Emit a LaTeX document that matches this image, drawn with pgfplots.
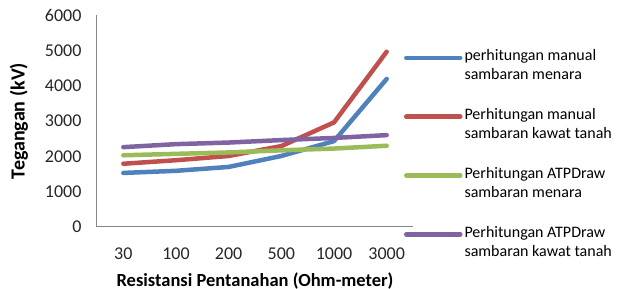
\documentclass[border=0pt]{standalone}
\usepackage{pgfplots}
\pgfplotsset{compat=1.18}
\usepackage{fontspec}
\setmainfont{Carlito}
\definecolor{cblue}{HTML}{4F81BD}
\definecolor{cred}{HTML}{C0504D}
\definecolor{cgreen}{HTML}{9BBB59}
\definecolor{cpurple}{HTML}{8064A2}
\definecolor{axgray}{HTML}{868686}
\newcommand{\lentry}[2]{\begin{tabular}[t]{@{}l@{}}#1\\#2\end{tabular}}
\begin{document}
\begin{tikzpicture}
\useasboundingbox (0pt,0pt) rectangle (622pt,289pt);
\begin{axis}[
  at={(97pt,62pt)}, anchor=south west,
  scale only axis, width=316pt, height=212pt,
  xmin=-0.5, xmax=5.5, ymin=0, ymax=6000,
  xtick={0,...,5}, xticklabels={30,100,200,500,1000,3000},
  ytick={0,1000,...,6000},
  axis x line*=bottom, axis y line*=left,
  axis line style={axgray, line width=1pt, -},
  major tick length=0pt,
  /pgf/number format/assume math mode=true,
  /pgf/number format/set thousands separator={},
  tick label style={font=\fontsize{18}{21}\selectfont, text=black!85},
  xticklabel style={yshift=-17pt},
  yticklabel style={xshift=-12pt},
  xlabel={\textbf{Resistansi Pentanahan (Ohm-meter)}},
  ylabel={\textbf{Tegangan (kV)}},
  xlabel style={inner sep=0pt, yshift=-10pt, font=\fontsize{18.5}{21}\selectfont},
  ylabel style={yshift=10pt, font=\fontsize{20}{23}\selectfont},
  legend style={at={(0.971,0.857)}, anchor=north west, draw=none, fill=none,
    inner sep=0pt, font=\fontsize{16}{19}\selectfont, row sep=40pt,
    cells={anchor=west}},
  legend image code/.code={\draw[#1, line width=4.5pt] (0pt,-3pt) -- (54pt,-3pt);},
  every axis plot/.append style={line width=4.5pt, line join=round, line cap=round},
]
\addplot[cblue] coordinates {(0,1530) (1,1590) (2,1700) (3,2010) (4,2430) (5,4190)};
\addlegendentry{\lentry{perhitungan manual}{sambaran menara}}
\addplot[cred] coordinates {(0,1790) (1,1890) (2,2010) (3,2290) (4,2960) (5,4960)};
\addlegendentry{\lentry{Perhitungan manual}{sambaran kawat tanah}}
\addplot[cgreen] coordinates {(0,2030) (1,2070) (2,2110) (3,2170) (4,2220) (5,2300)};
\addlegendentry{\lentry{Perhitungan ATPDraw}{sambaran menara}}
\addplot[cpurple] coordinates {(0,2260) (1,2345) (2,2390) (3,2460) (4,2520) (5,2600)};
\addlegendentry{\lentry{Perhitungan ATPDraw}{sambaran kawat tanah}}
\end{axis}
\end{tikzpicture}
\end{document}
